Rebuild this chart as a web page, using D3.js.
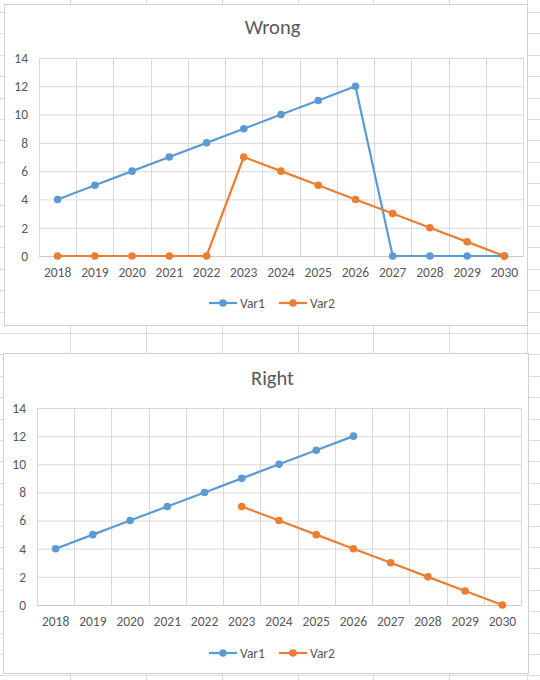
<!DOCTYPE html>
<html lang="en">
<head>
    <meta charset="UTF-8">
    <title>Wrong / Right</title>
    <script src="https://d3js.org/d3.v7.min.js"></script>
    <style>
        body { margin: 0; background: #ffffff; }
        svg { display: block; }
        text { font-family: Calibri, Carlito, 'Liberation Sans', Arial, sans-serif; fill: #595959; }
    </style>
</head>
<body>
    <script>
        const width = 540;
        const height = 680;

        // data
        const years = ["2018", "2019", "2020", "2021", "2022", "2023", "2024",
                       "2025", "2026", "2027", "2028", "2029", "2030"];
        const seriesNames = ["Var1", "Var2"];
        const wrongVar1 = [4, 5, 6, 7, 8, 9, 10, 11, 12, 0, 0, 0, 0];
        const wrongVar2 = [0, 0, 0, 0, 0, 7, 6, 5, 4, 3, 2, 1, 0];
        const rightVar1 = [4, 5, 6, 7, 8, 9, 10, 11, 12, null, null, null, null];
        const rightVar2 = [null, null, null, null, null, 7, 6, 5, 4, 3, 2, 1, 0];
        const yTicks = [0, 2, 4, 6, 8, 10, 12, 14];

        const colors = ["#5b9bd5", "#ed7d31"];

        const charts = [
            { title: "Wrong", series: [wrongVar1, wrongVar2],
              card: { x: 4, y: 4, w: 523, h: 321 },
              plot: { left: 39, right: 523, top: 58, bottom: 256 },
              titleY: 27, xLabelY: 273, legendY: 303 },
            { title: "Right", series: [rightVar1, rightVar2],
              card: { x: 3, y: 353, w: 525, h: 320 },
              plot: { left: 37, right: 521, top: 408, bottom: 605 },
              titleY: 378, xLabelY: 623, legendY: 653 }
        ];

        const svg = d3.select("body").append("svg")
            .attr("width", width)
            .attr("height", height);

        // spreadsheet cells behind the charts
        const sheet = svg.append("g").attr("stroke", "#dcdcdc").attr("stroke-width", 1);
        [70, 146, 222, 298, 373, 449, 527].forEach(x => {
            sheet.append("line").attr("x1", x + 0.5).attr("x2", x + 0.5).attr("y1", 0).attr("y2", height);
        });
        d3.range(12, height, 21.4).forEach(y => {
            sheet.append("line").attr("x1", 0).attr("x2", width)
                .attr("y1", Math.round(y) + 0.5).attr("y2", Math.round(y) + 0.5);
        });

        charts.forEach(c => {
            const g = svg.append("g");

            g.append("rect")
                .attr("x", c.card.x + 0.5).attr("y", c.card.y + 0.5)
                .attr("width", c.card.w).attr("height", c.card.h)
                .attr("fill", "#ffffff")
                .attr("stroke", "#d0d0d0");

            const x = d3.scaleBand().domain(years).range([c.plot.left, c.plot.right]);
            const y = d3.scaleLinear().domain([0, 14]).range([c.plot.bottom, c.plot.top]);

            // horizontal gridlines
            g.append("g")
                .attr("transform", `translate(${c.plot.left},0)`)
                .call(d3.axisLeft(y).tickValues(yTicks).tickSize(-(c.plot.right - c.plot.left)).tickFormat(""))
                .call(a => a.select(".domain").remove())
                .call(a => a.selectAll("line").attr("stroke", "#d9d9d9"));

            // vertical gridlines at category boundaries
            const bounds = years.map(d => x(d)).concat([x(years[years.length - 1]) + x.bandwidth()]);
            g.append("g").selectAll("line")
                .data(bounds)
                .join("line")
                .attr("x1", d => Math.round(d) + 0.5).attr("x2", d => Math.round(d) + 0.5)
                .attr("y1", c.plot.top).attr("y2", c.plot.bottom)
                .attr("stroke", "#d9d9d9");

            // x axis
            g.append("g")
                .attr("transform", `translate(0,${c.plot.bottom})`)
                .call(d3.axisBottom(x).tickSize(0).tickPadding(11))
                .call(a => a.select(".domain").attr("stroke", "#c8c8c8"))
                .call(a => a.selectAll("text").attr("font-size", 13.5).attr("fill", "#595959"));

            // y labels
            g.append("g")
                .attr("transform", `translate(${c.plot.left},0)`)
                .call(d3.axisLeft(y).tickValues(yTicks).tickSize(0).tickPadding(11))
                .call(a => a.select(".domain").remove())
                .call(a => a.selectAll("text").attr("font-size", 13.5).attr("fill", "#595959"));

            g.append("text")
                .attr("x", (c.card.x + c.card.x + c.card.w) / 2 + 7)
                .attr("y", c.titleY)
                .attr("dy", "0.35em")
                .attr("text-anchor", "middle")
                .attr("font-size", 20.5)
                .text(c.title);

            const line = d3.line()
                .defined(d => d != null)
                .x((d, i) => x(years[i]) + x.bandwidth() / 2)
                .y(d => y(d));

            c.series.forEach((values, si) => {
                g.append("path")
                    .datum(values)
                    .attr("fill", "none")
                    .attr("stroke", colors[si])
                    .attr("stroke-width", 2.2)
                    .attr("stroke-linejoin", "round")
                    .attr("d", line);

                g.append("g").selectAll("circle")
                    .data(values.map((v, i) => ({ v, i })).filter(d => d.v != null))
                    .join("circle")
                    .attr("cx", d => x(years[d.i]) + x.bandwidth() / 2)
                    .attr("cy", d => y(d.v))
                    .attr("r", 3.8)
                    .attr("fill", colors[si]);
            });

            // legend
            const legendX = [209, 279];
            seriesNames.forEach((name, si) => {
                const lg = g.append("g").attr("transform", `translate(${legendX[si]},${c.legendY})`);
                lg.append("line").attr("x1", 0).attr("x2", 28).attr("y1", 0).attr("y2", 0)
                    .attr("stroke", colors[si]).attr("stroke-width", 2.2);
                lg.append("circle").attr("cx", 14).attr("cy", 0).attr("r", 3.8).attr("fill", colors[si]);
                lg.append("text").attr("x", 31).attr("y", 0).attr("dy", "0.35em")
                    .attr("font-size", 13.5).text(name);
            });
        });
    </script>
</body>
</html>
